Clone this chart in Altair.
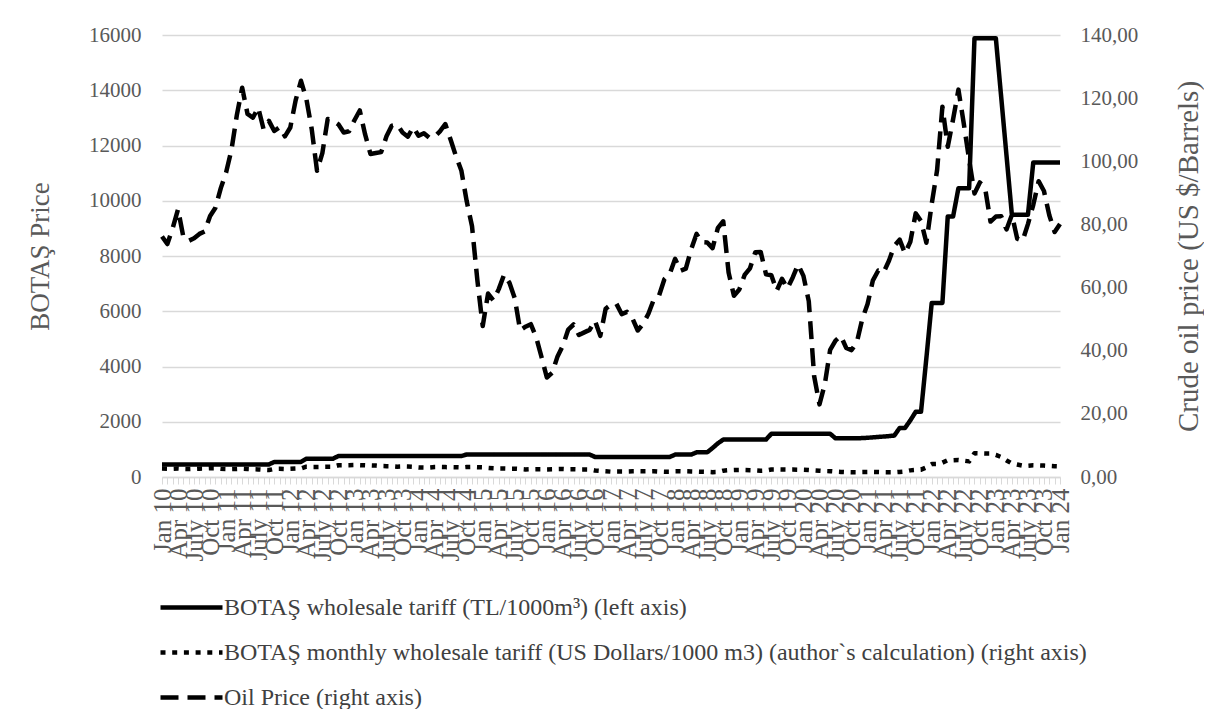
import json
import altair as alt
import pandas as pd

# ---------------- data ----------------
tick_labels = [
    "Jan 10", "Apr 10", "July 10", "Oct 10",
    "Jan 11", "Apr 11", "July 11", "Oct 11",
    "Jan 12", "Apr 12", "July 12", "Oct 12",
    "Jan 13", "Apr 13", "July 13", "Oct 13",
    "Jan 14", "Apr 14", "July 14", "Oct 14",
    "Jan 15", "Apr 15", "July 15", "Oct 15",
    "Jan 16", "Apr 16", "July 16", "Oct 16",
    "Jan 17", "Apr 17", "July 17", "Oct 17",
    "Jan 18", "Apr 18", "July 18", "Oct 18",
    "Jan 19", "Apr 19", "July 19", "Oct 19",
    "Jan 20", "Apr 20", "July 20", "Oct 20",
    "Jan 21", "Apr 21", "July 21", "Oct 21",
    "Jan 22", "Apr 22", "July 22", "Oct 22",
    "Jan 23", "Apr 23", "July 23", "Oct 23",
    "Jan 24",
]

# BOTAS wholesale tariff, TL / 1000 m3 (left axis), monthly Jan 2010 - Jan 2024
tariff_tl = [
    455, 455, 455, 455, 455, 455, 455, 455, 455, 455, 455, 455,            # 2010
    455, 455, 455, 455, 455, 455, 455, 455, 455, 545, 545, 545,            # 2011
    545, 545, 545, 665, 665, 665, 665, 665, 665, 760, 760, 760,            # 2012
    760, 760, 760, 760, 760, 760, 760, 760, 760, 760, 760, 760,            # 2013
    760, 760, 760, 760, 760, 760, 760, 760, 760, 815, 815, 815,            # 2014
    815, 815, 815, 815, 815, 815, 815, 815, 815, 815, 815, 815,            # 2015
    815, 815, 815, 815, 815, 815, 815, 815, 815, 727, 727, 727,            # 2016
    727, 727, 727, 727, 727, 727, 727, 727, 727, 727, 727, 727,            # 2017
    810, 810, 810, 810, 893, 893, 893, 1050, 1220, 1353, 1353, 1353,      # 2018
    1353, 1353, 1353, 1353, 1353, 1353, 1565, 1565, 1565, 1565, 1565, 1565,  # 2019
    1565, 1565, 1565, 1565, 1565, 1565, 1400, 1400, 1400, 1400, 1400, 1410,  # 2020
    1420, 1435, 1450, 1465, 1480, 1500, 1775, 1775, 2050, 2360, 2360, 4300,  # 2021
    6300, 6300, 6300, 9430, 9430, 10456, 10456, 10456, 15882, 15882, 15882, 15882,  # 2022
    15882, 13750, 11620, 9491, 9491, 9491, 9491, 11383, 11383, 11383, 11383, 11383,  # 2023
    11383,                                                                   # 2024
]

# BOTAS monthly wholesale tariff, US Dollars / 1000 m3 (author's calculation)
tariff_usd = [
    305, 300, 298, 305, 292, 288, 295, 303, 305, 315, 315, 296,            # 2010
    292, 285, 290, 300, 290, 280, 275, 260, 252, 295, 298, 290,            # 2011
    300, 308, 305, 372, 365, 365, 367, 369, 369, 424, 424, 427,            # 2012
    432, 430, 421, 422, 415, 395, 392, 390, 375, 382, 376, 365,            # 2013
    345, 342, 342, 358, 362, 358, 356, 352, 345, 362, 365, 355,            # 2014
    350, 330, 315, 305, 305, 300, 300, 288, 272, 280, 282, 280,            # 2015
    272, 277, 285, 288, 277, 280, 275, 276, 275, 235, 220, 208,            # 2016
    193, 198, 198, 198, 205, 206, 205, 206, 210, 198, 190, 190,            # 2017
    210, 212, 205, 200, 195, 190, 185, 175, 180, 230, 245, 252,            # 2018
    252, 250, 245, 238, 225, 232, 270, 272, 270, 268, 268, 265,            # 2019
    262, 255, 240, 228, 215, 210, 195, 185, 175, 172, 172, 178,            # 2020
    180, 185, 180, 172, 170, 170, 185, 200, 240, 255, 265, 350,            # 2021
    467, 470, 520, 610, 605, 615, 590, 565, 860, 855, 850, 850,            # 2022
    800, 720, 600, 490, 450, 412, 410, 423, 420, 412, 400, 390,            # 2023
    385,                                                                     # 2024
]

# Oil price, US $ / barrel (right axis)
oil_price = [
    76.2, 73.8, 78.8, 84.8, 76.0, 74.8, 75.6, 77.0, 77.8, 82.7, 85.3, 91.5,          # 2010
    96.5, 103.7, 114.6, 123.3, 115.0, 113.8, 117.0, 110.2, 112.8, 109.6, 110.8, 107.9,  # 2011
    110.7, 119.3, 125.5, 119.8, 110.3, 97.0, 102.6, 113.4, 112.9, 111.7, 109.1, 109.5,  # 2012
    113.0, 116.1, 108.5, 102.3, 102.6, 102.9, 107.9, 111.3, 111.6, 109.1, 107.8, 110.8,  # 2013
    108.1, 108.9, 107.5, 107.8, 109.5, 111.8, 106.8, 101.6, 97.1, 87.4, 79.4, 62.3,    # 2014
    47.8, 58.1, 55.9, 59.5, 64.1, 61.5, 56.6, 46.5, 47.6, 48.4, 44.3, 38.0,            # 2015
    31.5, 33.0, 38.2, 41.6, 46.7, 48.3, 45.0, 45.8, 46.6, 49.5, 44.7, 53.3,            # 2016
    54.6, 54.9, 51.6, 52.3, 50.3, 46.4, 48.5, 51.7, 56.2, 57.5, 62.7, 64.4,            # 2017
    69.1, 65.3, 66.0, 72.1, 77.0, 74.4, 74.3, 72.5, 78.9, 81.0, 64.8, 57.4,            # 2018
    59.4, 64.0, 66.1, 71.2, 71.3, 64.2, 63.9, 59.0, 62.8, 59.7, 63.2, 67.3,            # 2019
    63.7, 55.7, 32.0, 23.0, 29.4, 40.3, 43.2, 44.7, 40.9, 40.2, 42.7, 50.0,            # 2020
    54.8, 62.3, 65.4, 64.8, 68.5, 73.2, 75.2, 70.8, 74.5, 83.5, 81.1, 74.2,            # 2021
    86.5, 97.1, 117.3, 104.6, 113.3, 122.7, 111.9, 100.5, 89.8, 93.3, 91.4, 80.9,      # 2022
    82.5, 82.6, 78.4, 83.0, 75.5, 74.8, 80.1, 86.2, 93.7, 90.6, 82.9, 77.6,            # 2023
    80.1,                                                                             # 2024
]

series_names = [
    "BOTAŞ wholesale tariff  (TL/1000m³) (left axis)",
    "BOTAŞ monthly wholesale tariff (US Dollars/1000 m3) (author`s calculation) (right axis)",
    "Oil Price (right axis)",
]

left_ticks = [0, 2000, 4000, 6000, 8000, 10000, 12000, 14000, 16000]
right_ticks = [0, 20, 40, 60, 80, 100, 120, 140]

# ---------------- tables ----------------
n = len(tariff_tl)
months = list(range(n))
left_df = pd.DataFrame({
    "m": months * 2,
    "value": tariff_tl + tariff_usd,
    "series": [series_names[0]] * n + [series_names[1]] * n,
})
right_df = pd.DataFrame({"m": months, "value": oil_price, "series": [series_names[2]] * n})

FONT = "Liberation Serif"
GRAY = "#595959"

x_label_expr = "datum.value % 3 == 0 ? " + json.dumps(tick_labels, ensure_ascii=False) + "[datum.value / 3] : ''"

x_enc = alt.X(
    "m:O",
    scale=alt.Scale(type="point", padding=0),
    title=None,
    axis=alt.Axis(
        labelExpr=x_label_expr,
        labelAngle=270,
        labelAlign="right",
        labelBaseline="middle",
        labelFont=FONT,
        labelFontSize=25,
        labelColor=GRAY,
        labelPadding=4,
        labelOverlap=False,
        labelFlush=False,
        labelBound=False,
        ticks=True,
        tickColor="#d9d9d9",
        tickSize=7,
        tickWidth=1,
        domainColor="#d9d9d9",
        domainWidth=1.3,
        grid=False,
    ),
)

dash_scale = alt.Scale(domain=series_names, range=[[1, 0], [5, 6.7], [18, 9]])
legend = alt.Legend(
    orient="none",
    legendX=11.5,
    legendY=554.5,
    direction="vertical",
    title=None,
    symbolType="M-2,0L2,0",
    symbolSize=961,
    symbolStrokeWidth=4.5,
    symbolStrokeColor="black",
    labelFont=FONT,
    labelFontSize=24,
    labelColor="#404040",
    labelOffset=14.5,
    labelLimit=1200,
    rowPadding=15,
    padding=0,
)

left_layer = alt.Chart(left_df).mark_line(color="black", strokeWidth=4.5, strokeJoin="round").encode(
    x=x_enc,
    y=alt.Y(
        "value:Q",
        scale=alt.Scale(domain=[0, 16000], nice=False),
        axis=alt.Axis(
            values=left_ticks,
            format="d",
            grid=True,
            gridColor="#d9d9d9",
            gridWidth=1.3,
            domain=False,
            ticks=False,
            labelFont=FONT,
            labelFontSize=21,
            labelColor=GRAY,
            labelPadding=21,
            title="BOTAŞ Price",
            titleFont=FONT,
            titleFontSize=27,
            titleFontWeight="normal",
            titleColor=GRAY,
            titleAngle=270,
            titleAlign="center",
            titleBaseline="middle",
            titleX=-122,
            titleY=221,
        ),
    ),
    strokeDash=alt.StrokeDash("series:N", scale=dash_scale, legend=legend),
    detail="series:N",
)

right_layer = alt.Chart(right_df).mark_line(color="black", strokeWidth=4.5, strokeJoin="round").encode(
    x=x_enc,
    y=alt.Y(
        "value:Q",
        scale=alt.Scale(domain=[0, 140], nice=False),
        axis=alt.Axis(
            orient="right",
            values=right_ticks,
            labelExpr="replace(format(datum.value, '.2f'), '.', ',')",
            grid=False,
            domain=False,
            ticks=False,
            labelFont=FONT,
            labelFontSize=21,
            labelColor=GRAY,
            labelPadding=20,
            title="Crude oil price (US $/Barrels)",
            titleFont=FONT,
            titleFontSize=29,
            titleFontWeight="normal",
            titleColor=GRAY,
            titleAngle=270,
            titleAlign="center",
            titleBaseline="middle",
            titleX=128,
            titleY=221,
        ),
    ),
    strokeDash=alt.StrokeDash("series:N", scale=dash_scale, legend=legend),
)

chart = (
    alt.layer(left_layer, right_layer)
    .resolve_scale(y="independent")
    .properties(
        width=898,
        height=442,
        autosize=alt.AutoSizeParams(type="none"),
        padding={"left": 154, "top": 27, "right": 144, "bottom": 232},
        background="white",
    )
    .configure_view(stroke="transparent")
)

chart.save("out.html", embed_options={"renderer": "svg", "actions": False})
